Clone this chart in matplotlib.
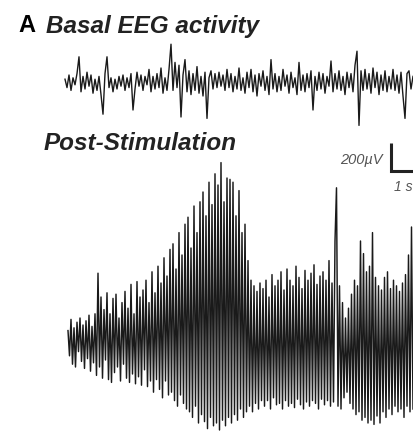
import numpy as np
import matplotlib
matplotlib.use("Agg")
import matplotlib.pyplot as plt

# Basal EEG trace, microvolts, 15 samples per second
basal_uv = [
    20, -40, 50, -60, 30, -20, 60, 180, -70, 40,
    -50, 70, -30, 50, -80, 20, -60, 40, -90, -230,
    60, 180, -40, 30, -70, 20, -50, 40, -30, 50,
    -60, 30, -40, 60, -200, -50, 70, -30, 50, -60,
    40, -20, 90, -70, 40, -50, 60, -40, 100, -80,
    30, -60, 90, 270, -60, 140, -40, 120, -250, 50,
    160, -70, 80, -90, 60, -60, 110, -80, 40, -100,
    70, -260, 30, 80, -50, 60, -40, 70, -30, 50,
    -60, 90, -40, 60, -70, 40, -50, 100, -60, 30,
    -80, 70, -40, 90, -70, 50, -100, 60, -30, 80,
    -60, 40, -90, 160, -50, 60, -70, 40, -60, 90,
    -30, 50, -80, 70, -40, 30, -90, 140, -60, 50,
    -70, 60, -40, 80, -200, 40, -60, 70, -50, 60,
    -80, 40, -30, 150, -70, 60, -50, 80, -60, 40,
    -90, 70, -40, 60, -70, 120, 220, -310, 80, -60,
    90, -50, 60, -80, 100, -40, 70, -90, 50, -60,
    80, -70, 40, -50, 90, -60, 50, -80, 70, -100,
    -260, 60, 80, -50, 40,
]

# Post-stimulation trace, microvolts, 20 samples per second
post_uv = [
    60, -120, 140, -180, 80, -200, 120, -90, 150, -160,
    100, -210, 130, -140, 170, -230, 90, -170, 180, -260,
    470, -200, 300, -280, 210, -150, 330, -290, 180, -310,
    290, -240, 320, -200, 150, -300, 260, -180, 340, -280,
    220, -310, 390, -250, 180, -320, 410, -270, 300, -330,
    350, -220, 420, -340, 260, -300, 480, -380, 330, -290,
    520, -360, 400, -420, 580, -300, 450, -400, 640, -380,
    680, -440, 500, -480, 760, -400, 600, -460, 820, -500,
    870, -520, 650, -560, 950, -480, 760, -600, 980, -540,
    1050, -590, 880, -640, 1120, -560, 960, -620, 1180, -600,
    1100, -650, 1260, -580, 980, -620, 1150, -560, 1140, -600,
    1120, -540, 880, -580, 1060, -500, 760, -560, 820, -520,
    560, -480, 420, -520, 380, -460, 340, -500, 400, -440,
    360, -480, 420, -440, 300, -500, 460, -420, 380, -470,
    420, -460, 480, -500, 350, -440, 500, -480, 420, -460,
    380, -490, 520, -430, 440, -470, 360, -500, 490, -450,
    420, -480, 470, -440, 530, -460, 390, -500, 450, -430,
    480, -470, 420, -440, 560, -480, 400, -450, 700, 1080,
    -480, 380, -500, 260, -420, 150, -380, 220, -460, 320,
    -500, 420, -540, 380, -520, 700, -580, 610, -560, 480,
    -600, 520, -580, 760, -610, 440, -550, 380, -600, 350,
    -520, 440, -560, 480, -500, 360, -540, 420, -480, 380,
    -520, 340, -500, 400, -560, 460, -480, 600, -520, 800,
    -500,
]

fs_basal = 15.0
fs_post = 20.0

fig = plt.figure(figsize=(4.14, 4.39), dpi=100)
ax = fig.add_axes([0, 0, 1, 1])
ax.axis("off")

uv_per_px = 200 / 28.0
basal_offset = (340 - 83) * uv_per_px

t_basal = np.arange(len(basal_uv)) / fs_basal - 0.1
t_post = np.arange(len(post_uv)) / fs_post

ax.plot(t_basal, np.array(basal_uv) + basal_offset, color="#1a1a1a", lw=1.0)
ax.plot(t_post, post_uv, color="#1a1a1a", lw=1.05)

# scale bar: 200 uV / 1 s
sx, sy = 10.77, 1200
ax.plot([sx, sx, sx + 1], [sy + 200, sy, sy], color="#222222", lw=2.2,
        solid_joinstyle="miter", solid_capstyle="butt")
ax.text(sx - 0.27, sy + 85, "200µV", ha="right", va="center",
        fontsize=10.5, style="italic", color="#555555", family="Liberation Sans")
ax.text(11.5, sy - 110, "1 s", ha="right", va="center",
        fontsize=10, style="italic", color="#555555", family="Liberation Sans")

ax.set_xlim(-68 / 30.0, 346 / 30.0)
ax.set_ylim(-(439 - 340) * uv_per_px, 340 * uv_per_px)

fig.text(18 / 414, 1 - 26 / 439, "A", fontsize=17, fontweight="bold",
         family="Liberation Sans", va="center", ha="left")
fig.text(46 / 414, 1 - 26 / 439, "Basal EEG activity", fontsize=17.5,
         fontweight="bold", style="italic", family="Liberation Sans",
         va="center", ha="left", color="#222222")
fig.text(44 / 414, 1 - 143 / 439, "Post-Stimulation", fontsize=17.5,
         fontweight="bold", style="italic", family="Liberation Sans",
         va="center", ha="left", color="#222222")

fig.savefig("out.png", dpi=100)
